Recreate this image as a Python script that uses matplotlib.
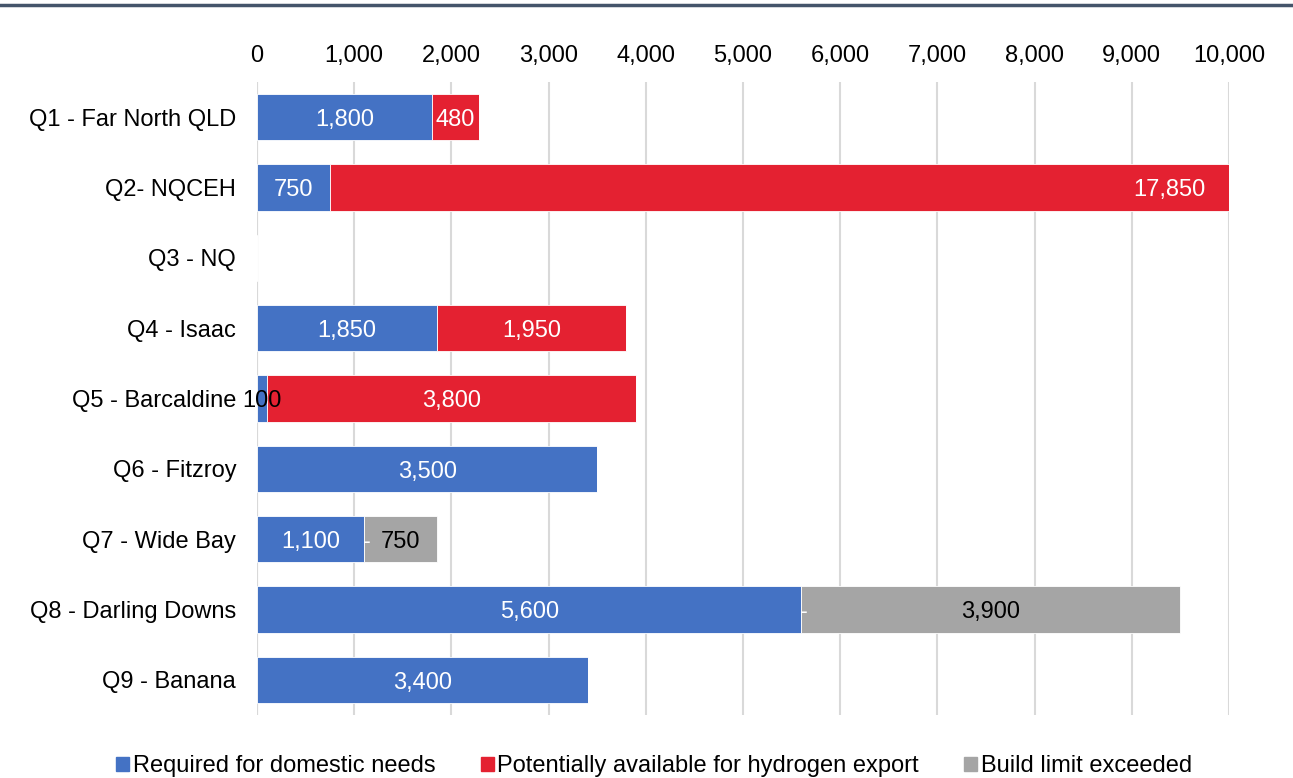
import numpy as np
import matplotlib
matplotlib.use("Agg")
import matplotlib.pyplot as plt
from matplotlib.lines import Line2D

plt.rcParams['font.family'] = ['Liberation Sans', 'DejaVu Sans']

regions = ["Q1 - Far North QLD", "Q2- NQCEH", "Q3 - NQ", "Q4 - Isaac",
           "Q5 - Barcaldine", "Q6 - Fitzroy", "Q7 - Wide Bay",
           "Q8 - Darling Downs", "Q9 - Banana"]
domestic = [1800, 750, None, 1850, 100, 3500, 1100, 5600, 3400]
export = [480, 17850, None, 1950, 3800, None, 0, 0, None]
build_limit = [None, None, None, None, None, None, 750, 3900, None]

series_names = ["Required for domestic needs",
                "Potentially available for hydrogen export",
                "Build limit exceeded"]
colors = ["#4472C4", "#E42131", "#A5A5A5"]
label_colors = ["white", "white", "black"]

xticks = [0, 1000, 2000, 3000, 4000, 5000, 6000, 7000, 8000, 9000, 10000]
xmax = 10000

fig = plt.figure(figsize=(12.93, 7.78), dpi=100)
ax = fig.add_axes([0.1988, 0.081, 0.7517, 0.8136])

y = np.arange(len(regions))
left = np.zeros(len(regions))
FS = 17

for s_idx, vals in enumerate([domestic, export, build_limit]):
    v = np.array([np.nan if x is None else x for x in vals], dtype=float)
    w = np.nan_to_num(v)
    ax.barh(y, w, left=left, height=0.66, color=colors[s_idx],
            edgecolor="white", linewidth=0.6, zorder=3)
    for i, val in enumerate(v):
        if np.isnan(val):
            continue
        start = left[i]
        txt = "-" if val == 0 else f"{int(val):,}"
        end = start + val
        if end > xmax:
            # Bar runs past the axis limit: put its label inside the visible end
            ax.text(xmax - 240, i + 0.04, txt, ha="right", va="center",
                    color=label_colors[s_idx], fontsize=FS, zorder=5)
        elif val == 0:
            ax.text(start + 30, i + 0.04, txt, ha="center", va="center",
                    color="white", fontsize=FS, zorder=5)
        elif val < 300:
            ax.text(start + val / 2, i + 0.04, txt, ha="center", va="center",
                    color="black", fontsize=FS, zorder=5)
        else:
            ax.text(start + val / 2, i + 0.04, txt, ha="center", va="center",
                    color=label_colors[s_idx], fontsize=FS, zorder=5)
    left = left + w

ax.set_xlim(0, xmax)
ax.set_ylim(len(regions) - 0.5, -0.5)
ax.set_yticks(y)
ax.set_yticklabels(regions, fontsize=FS)
ax.set_xticks(xticks)
ax.set_xticklabels([f"{t:,}" for t in xticks], fontsize=FS)
ax.xaxis.tick_top()
ax.tick_params(axis="x", length=0, pad=11)
ax.tick_params(axis="y", length=0, pad=15)
ax.grid(axis="x", color="#D9D9D9", linewidth=1.5, zorder=0)
for sp in ax.spines.values():
    sp.set_visible(False)
ax.axvline(0, color="#D9D9D9", linewidth=1.5, zorder=1)

# header rule across the full width
fig.add_artist(Line2D([0, 1], [0.9935, 0.9935], transform=fig.transFigure,
                      color="#44546A", linewidth=2.5))

handles = [plt.Rectangle((0, 0), 1, 1, color=c) for c in colors]
fig.legend(handles, series_names, loc="center", bbox_to_anchor=(0.506, 0.015),
           ncol=3, frameon=False, fontsize=FS, handlelength=0.55,
           handleheight=0.55, handletextpad=0.15, columnspacing=1.92)

fig.savefig("out.png", dpi=100)
